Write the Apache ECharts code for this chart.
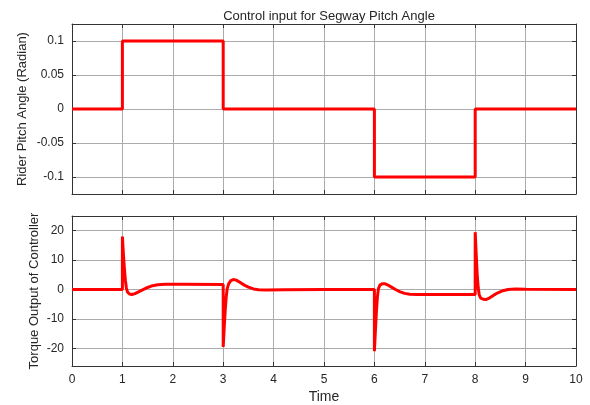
<!DOCTYPE html>
<html>
<head>
<meta charset="utf-8">
<script src="https://cdn.jsdelivr.net/npm/echarts@6/dist/echarts.min.js"></script>
<style>html,body{margin:0;padding:0;background:#fff}#c{width:590px;height:405px}</style>
</head>
<body>
<div id="c"></div>
<script>
// Top plot: rider pitch angle step input (time, radian)
const pitchTime  = [0, 1, 1, 3, 3, 6, 6, 8, 8, 10];
const pitchValue = [0, 0, 0.1, 0.1, 0, 0, -0.1, -0.1, 0, 0];

// Bottom plot: controller torque output (time, value)
const torqueTime = [
  0, 1, 1, 1.02, 1.04, 1.06, 1.08, 1.10, 1.14, 1.19, 1.25, 1.32, 1.40, 1.50, 1.60, 1.70, 1.85, 2.2, 3.0,
  3, 3.02, 3.04, 3.06, 3.08, 3.11, 3.15, 3.20, 3.26, 3.33, 3.42, 3.50, 3.60, 3.70, 3.85, 4.2, 5.0, 6.0,
  6, 6.02, 6.04, 6.06, 6.08, 6.11, 6.16, 6.20, 6.26, 6.33, 6.42, 6.50, 6.60, 6.70, 6.85, 7.5, 8.0,
  8, 8.02, 8.04, 8.06, 8.08, 8.11, 8.16, 8.21, 8.28, 8.36, 8.45, 8.55, 8.65, 8.80, 9.0, 10
];
const torqueValue = [
  0, 0, 18, 12, 7, 3, 0.5, -0.8, -1.5, -1.7, -1.4, -0.8, -0.1, 0.7, 1.3, 1.6, 1.8, 1.8, 1.7,
  -19.5, -13, -7, -2.5, 0.3, 2.0, 3.0, 3.4, 3.2, 2.5, 1.5, 0.8, 0.2, -0.1, -0.2, -0.1, 0, 0,
  -21, -14, -7.5, -2.5, 0.3, 1.5, 2.0, 2.0, 1.6, 0.9, 0.0, -0.7, -1.3, -1.6, -1.7, -1.7, -1.7,
  19.5, 12, 5, 0.5, -1.8, -2.9, -3.3, -3.4, -2.9, -2.0, -1.1, -0.4, 0.0, 0.2, 0.1, 0
];

const xTicks = [0,1,2,3,4,5,6,7,8,9,10];

const chart = echarts.init(document.getElementById('c'), null, {renderer: 'canvas'});
const FONT = 'Liberation Sans';
const TXT = '#262626';
const GRIDC = '#ababab';
const AX = '#333333';

function xAx(gi, pos, labels, name) {
  return {
    type: 'value', gridIndex: gi, position: pos, min: xTicks[0], max: xTicks[xTicks.length-1], interval: 1,
    axisLine: {show: true, onZero: false, lineStyle: {color: AX, width: 1}},
    axisTick: {show: true, inside: true, length: 4, lineStyle: {color: AX}},
    axisLabel: {show: labels, color: TXT, fontFamily: FONT, fontSize: 12, margin: 8},
    splitLine: {show: pos === 'bottom', lineStyle: {color: GRIDC, width: 1}},
    name: name || '', nameLocation: 'middle', nameGap: 24, nameMoveOverlap: false,
    nameTextStyle: {color: TXT, fontFamily: FONT, fontSize: 14}
  };
}
function yAx(gi, pos, min, max, labels, name, gap) {
  return {
    type: 'value', gridIndex: gi, position: pos, min: min, max: max, splitNumber: 5,
    axisLine: {show: true, onZero: false, lineStyle: {color: AX, width: 1}},
    axisTick: {show: true, inside: true, length: 4, lineStyle: {color: AX}},
    axisLabel: {show: labels, color: TXT, fontFamily: FONT, fontSize: 12, margin: 8, showMinLabel: false, showMaxLabel: false},
    splitLine: {show: pos === 'left', lineStyle: {color: GRIDC, width: 1}},
    name: name || '', nameLocation: 'middle', nameGap: gap || 0, nameRotate: 90, nameMoveOverlap: false,
    nameTextStyle: {color: TXT, fontFamily: FONT, fontSize: 13}
  };
}

chart.setOption({
  animation: false,
  backgroundColor: '#fff',
  title: {
    text: 'Control input for Segway Pitch Angle', left: 324, textAlign: 'center', top: 5,
    textStyle: {color: TXT, fontFamily: FONT, fontSize: 13, fontWeight: 'normal'}
  },
  grid: [
    {left: 72, right: 14, top: 24, height: 170},
    {left: 72, right: 14, top: 216, height: 151}
  ],
  xAxis: [
    xAx(0, 'bottom', false),
    xAx(0, 'top', false),
    xAx(1, 'bottom', true, 'Time'),
    xAx(1, 'top', false)
  ],
  yAxis: [
    yAx(0, 'left', -0.125, 0.125, true, 'Rider Pitch Angle (Radian)', 43),
    yAx(0, 'right', -0.125, 0.125, false),
    yAx(1, 'left', -26, 25, true, 'Torque Output of Controller', 31),
    yAx(1, 'right', -26, 25, false)
  ],
  series: [
    {
      type: 'line', xAxisIndex: 0, yAxisIndex: 0, showSymbol: false, symbol: 'none',
      lineStyle: {color: '#ff0000', width: 3}, z: 5,
      data: pitchTime.map((t, i) => [t, pitchValue[i]])
    },
    {
      type: 'line', xAxisIndex: 2, yAxisIndex: 2, showSymbol: false, symbol: 'none',
      lineStyle: {color: '#ff0000', width: 3}, z: 5,
      data: torqueTime.map((t, i) => [t, torqueValue[i]])
    }
  ]
});
</script>
</body>
</html>
